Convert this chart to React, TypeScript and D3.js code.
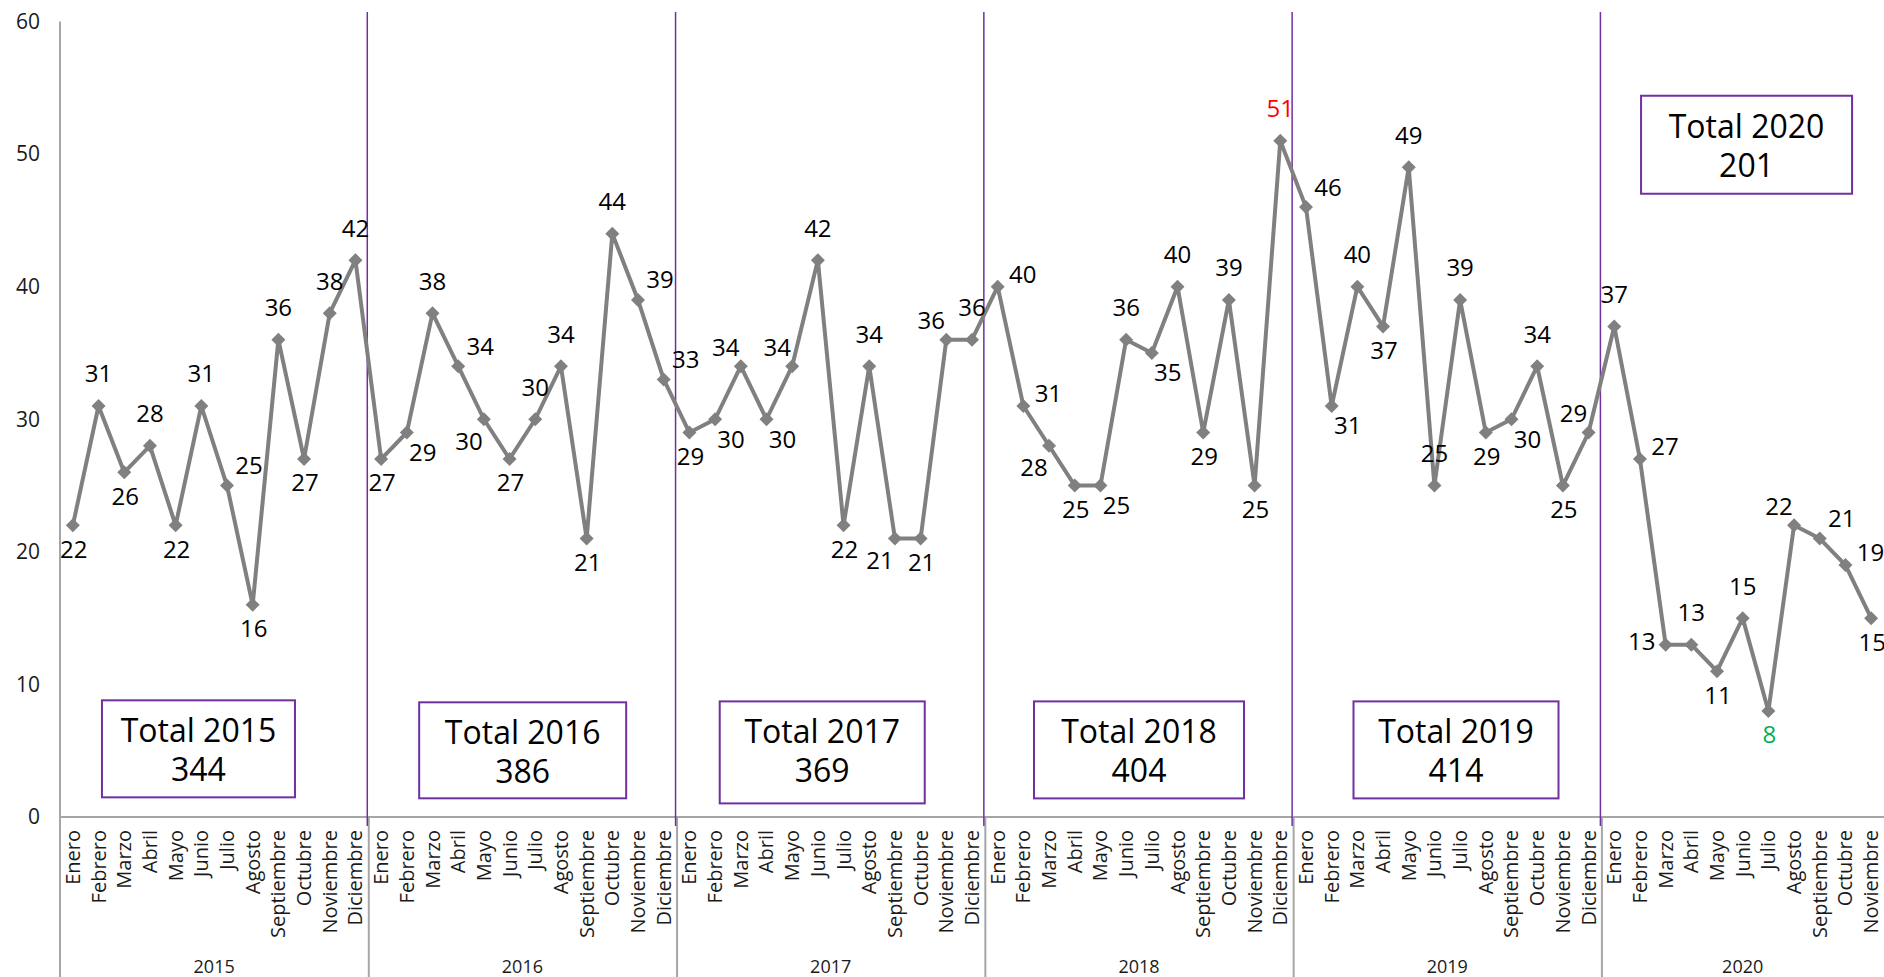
import React from "react";
import * as d3 from "d3";

const months = ["Enero", "Febrero", "Marzo", "Abril", "Mayo", "Junio", "Julio", "Agosto", "Septiembre", "Octubre", "Noviembre", "Diciembre"];
const years = ["2015", "2016", "2017", "2018", "2019", "2020"];

const values2015 = [22, 31, 26, 28, 22, 31, 25, 16, 36, 27, 38, 42];
const values2016 = [27, 29, 38, 34, 30, 27, 30, 34, 21, 44, 39, 33];
const values2017 = [29, 30, 34, 30, 34, 42, 22, 34, 21, 21, 36, 36];
const values2018 = [40, 31, 28, 25, 25, 36, 35, 40, 29, 39, 25, 51];
const values2019 = [46, 31, 40, 37, 49, 25, 39, 29, 30, 34, 25, 29];
const values2020 = [37, 27, 13, 13, 11, 15, 8, 22, 21, 19, 15];

// data-label placement codes (t=top, b=bottom, r=right, l=left, combos)
const labelPos2015 = ["b", "t", "b", "t", "b", "t", "tr", "b", "t", "b", "t", "t"];
const labelPos2016 = ["b", "br", "t", "tr", "bl", "b", "t", "t", "b", "t", "tr", "tr"];
const labelPos2017 = ["b", "br", "tl", "br", "tl", "t", "b", "t", "bl", "b", "tl", "t"];
const labelPos2018 = ["r", "r", "bl", "b", "br", "t", "br", "t", "b", "t", "b", "t"];
const labelPos2019 = ["tr", "br", "t", "b", "t", "t", "t", "b", "br", "t", "b", "tl"];
const labelPos2020 = ["t", "r", "l", "t", "b", "t", "b", "tl", "tr", "r", "b"];

const seriesByYear = [values2015, values2016, values2017, values2018, values2019, values2020];
const posByYear = [labelPos2015, labelPos2016, labelPos2017, labelPos2018, labelPos2019, labelPos2020];

// layout for "Total" annotation boxes: center in band units, top in value units
const totalBoxLayout = [
  { cx: 5.39, top: 8.8, w: 193, h: 97 },
  { cx: 18.01, top: 8.65, w: 207, h: 96 },
  { cx: 29.67, top: 8.72, w: 205, h: 102 },
  { cx: 42.0, top: 8.72, w: 210, h: 97 },
  { cx: 54.34, top: 8.72, w: 205, h: 97 },
  { cx: 65.65, top: 54.4, w: 211, h: 98 },
];

const W = 1884;
const H = 977;
const LEFT = 60;
const AXIS_Y = 817;
const TOP_Y = 21.5;
const FONT = "'Open Sans', 'Noto Sans', sans-serif";
const PURPLE = "#7030A0";
const GRAY_AXIS = "#a6a6a6";
const LINE_GRAY = "#808080";

const offsets: Record<string, [number, number]> = {
  t: [0, -32],
  b: [1, 24],
  tr: [22, -20],
  tl: [-15, -19],
  br: [16, 20],
  bl: [-15, 22],
  r: [25, -12],
  l: [-24, -3],
};

type Pt = { key: string; year: string; month: string; value: number; pos: string; idx: number };

export default function App() {
  const points: Pt[] = [];
  seriesByYear.forEach((vals, yi) => {
    vals.forEach((v, mi) => {
      points.push({ key: `${years[yi]}-${mi}`, year: years[yi], month: months[mi], value: v, pos: posByYear[yi][mi], idx: points.length });
    });
  });

  const x = d3.scaleBand<string>().domain(points.map((p) => p.key)).range([LEFT, W]).padding(0);
  const bw = x.bandwidth();
  const cx = (k: string) => (x(k) as number) + bw / 2;
  const y = d3.scaleLinear().domain([0, 60]).range([AXIS_Y, TOP_Y]);

  const line = d3
    .line<Pt>()
    .x((p) => cx(p.key))
    .y((p) => y(p.value));

  const maxV = d3.max(points, (p) => p.value) as number;
  const minV = d3.min(points, (p) => p.value) as number;

  const groups = years.map((yr, yi) => {
    const pts = points.filter((p) => p.year === yr);
    const x0 = x(pts[0].key) as number;
    const x1 = (x(pts[pts.length - 1].key) as number) + bw;
    const total = d3.sum(seriesByYear[yi]);
    return { yr, x0, x1, total };
  });

  const diamond = (px: number, py: number, r: number) => `M${px},${py - r}L${px + r},${py}L${px},${py + r}L${px - r},${py}Z`;

  return (
    <svg width={W} height={H} style={{ position: "absolute", left: 0, top: 0, display: "block", background: "#fff" }} fontFamily={FONT}>
      {y.ticks(6).map((t) => (
        <text key={t} x={40} y={y(t)} dy="0.35em" textAnchor="end" fontSize={21} fill="#1a1a1a">
          {t}
        </text>
      ))}
      <line x1={LEFT} x2={LEFT} y1={TOP_Y} y2={H} stroke={GRAY_AXIS} strokeWidth={2} />
      <line x1={LEFT} x2={W} y1={AXIS_Y} y2={AXIS_Y} stroke={GRAY_AXIS} strokeWidth={2} />

      {groups.slice(1).map((g) => (
        <line key={"gs" + g.yr} x1={g.x0 + 0.5} x2={g.x0 + 0.5} y1={AXIS_Y} y2={H} stroke={GRAY_AXIS} strokeWidth={2} />
      ))}
      {groups.slice(1).map((g) => (
        <line key={"ps" + g.yr} x1={g.x0 - 1} x2={g.x0 - 1} y1={12} y2={826} stroke={PURPLE} strokeWidth={1.5} />
      ))}

      {points.map((p) => (
        <text
          key={"m" + p.key}
          transform={`translate(${cx(p.key)},${830}) rotate(-90)`}
          textAnchor="end"
          dy="0.35em"
          fontSize={20}
          fill="#1a1a1a"
        >
          {p.month}
        </text>
      ))}
      {groups.map((g) => (
        <text key={"y" + g.yr} x={(g.x0 + g.x1) / 2} y={973} textAnchor="middle" fontSize={18} fill="#1a1a1a">
          {g.yr}
        </text>
      ))}

      {groups.map((g, i) => {
        const L = totalBoxLayout[i];
        const bx = LEFT + L.cx * bw;
        const by = y(L.top);
        return (
          <g key={"tb" + g.yr}>
            <rect x={bx - L.w / 2} y={by} width={L.w} height={L.h} fill="#fff" stroke={PURPLE} strokeWidth={2} />
            <text x={bx} y={by + 42} textAnchor="middle" fontSize={32} fill="#000">
              {`Total ${g.yr}`}
            </text>
            <text x={bx} y={by + 81} textAnchor="middle" fontSize={32} fill="#000">
              {g.total}
            </text>
          </g>
        );
      })}

      <path d={line(points) as string} fill="none" stroke={LINE_GRAY} strokeWidth={4} strokeLinejoin="round" />
      {points.map((p) => (
        <path key={"d" + p.key} d={diamond(cx(p.key), y(p.value), 7)} fill={LINE_GRAY} />
      ))}

      {points.map((p) => {
        const [dx, dy] = offsets[p.pos];
        const color = p.value === maxV ? "#FF0000" : p.value === minV ? "#00B050" : "#000";
        return (
          <text
            key={"l" + p.key}
            x={cx(p.key) + dx}
            y={y(p.value) + dy}
            dy="0.35em"
            textAnchor="middle"
            fontSize={24}
            fill={color}
          >
            {p.value}
          </text>
        );
      })}
    </svg>
  );
}
